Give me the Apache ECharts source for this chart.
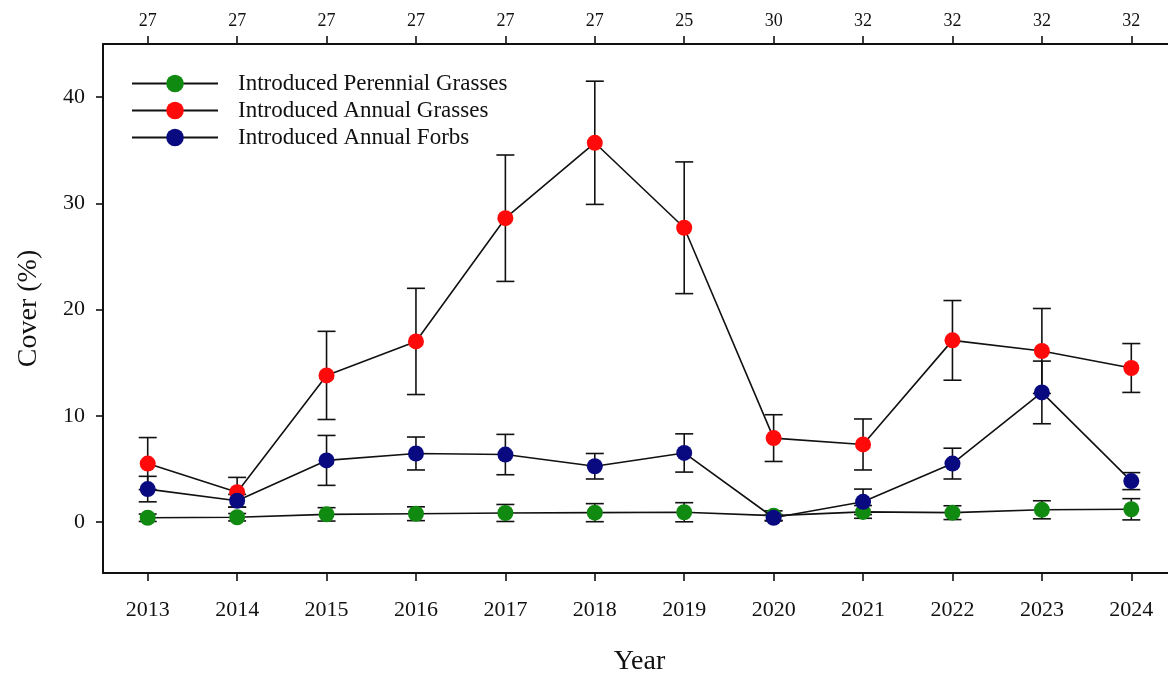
<!DOCTYPE html>
<html>
<head>
<meta charset="utf-8">
<title>Introduced plant cover by year</title>
<script src="https://cdn.jsdelivr.net/npm/echarts@6/dist/echarts.min.js"></script>
<style>
  html, body { margin: 0; padding: 0; background: #ffffff; }
  #chart { width: 1168px; height: 677px; }
</style>
</head>
<body>
<div id="chart"></div>
<script>
// Survey years and the number of plots sampled each year (top axis)
const years = ['2013', '2014', '2015', '2016', '2017', '2018', '2019', '2020', '2021', '2022', '2023', '2024'];
const plotCounts = ['27', '27', '27', '27', '27', '27', '25', '30', '32', '32', '32', '32'];

// Mean cover (%) and standard error for each functional group
const perennialGrassMean = [0.4, 0.45, 0.72, 0.78, 0.85, 0.88, 0.92, 0.6, 0.95, 0.88, 1.15, 1.2];
const perennialGrassSE   = [0.35, 0.35, 0.63, 0.65, 0.8, 0.85, 0.9, 0.45, 0.6, 0.65, 0.85, 1.0];

const annualGrassMean = [5.5, 2.8, 13.8, 17.0, 28.6, 35.7, 27.7, 7.9, 7.3, 17.1, 16.1, 14.5];
const annualGrassSE   = [2.45, 1.4, 4.15, 5.0, 5.95, 5.8, 6.2, 2.2, 2.4, 3.75, 4.0, 2.3];

const annualForbMean = [3.1, 2.0, 5.8, 6.45, 6.35, 5.25, 6.5, 0.4, 1.9, 5.5, 12.2, 3.85];
const annualForbSE   = [1.2, 0.6, 2.35, 1.55, 1.9, 1.2, 1.8, 0.3, 1.2, 1.45, 2.95, 0.8];

// Y axis ticks
const yTicks = [0, 10, 20, 30, 40];

const groups = [
  { name: 'Introduced Perennial Grasses', mean: perennialGrassMean, se: perennialGrassSE, color: '#118a11' },
  { name: 'Introduced Annual Grasses',    mean: annualGrassMean,    se: annualGrassSE,    color: '#ff0a0a' },
  { name: 'Introduced Annual Forbs',      mean: annualForbMean,     se: annualForbSE,     color: '#0a0a80' }
];

const FONT = '"Liberation Serif", "DejaVu Serif", serif';
const chart = echarts.init(document.getElementById('chart'));

// Error bars: vertical whisker with horizontal caps at mean ± SE
function errorBarSeries(g) {
  return {
    type: 'custom',
    name: g.name + ' SE',
    xAxisIndex: 0,
    yAxisIndex: 0,
    z: 1,
    silent: true,
    data: g.mean.map((m, i) => [i, m - g.se[i], m + g.se[i]]),
    renderItem: function (params, api) {
      const lo = api.coord([api.value(0), api.value(1)]);
      const hi = api.coord([api.value(0), api.value(2)]);
      const half = 9;
      const style = { stroke: '#111111', lineWidth: 1.6 };
      return {
        type: 'group',
        children: [
          { type: 'line', shape: { x1: lo[0], y1: lo[1], x2: hi[0], y2: hi[1] }, style: style },
          { type: 'line', shape: { x1: hi[0] - half, y1: hi[1], x2: hi[0] + half, y2: hi[1] }, style: style },
          { type: 'line', shape: { x1: lo[0] - half, y1: lo[1], x2: lo[0] + half, y2: lo[1] }, style: style }
        ]
      };
    }
  };
}

const lineSeries = groups.map((g, k) => ({
  type: 'line',
  name: g.name,
  data: g.mean,
  xAxisIndex: 0,
  yAxisIndex: 0,
  z: 3 + k,
  symbol: 'circle',
  symbolSize: 16,
  showAllSymbol: true,
  itemStyle: { color: g.color, borderWidth: 0 },
  lineStyle: { color: '#111111', width: 1.6 },
  emphasis: { disabled: true },
  animation: false
}));

const axisLine = { show: true, onZero: false, lineStyle: { color: '#111111', width: 2 } };

chart.setOption({
  animation: false,
  backgroundColor: '#ffffff',
  textStyle: { fontFamily: FONT },
  grid: { left: 103, top: 44, width: 1073, bottom: 104, containLabel: false, outerBoundsMode: 'none' },
  legend: {
    orient: 'vertical',
    left: 131,
    top: 72,
    padding: 0,
    itemWidth: 86,
    itemHeight: 22,
    itemGap: 4,
    data: groups.map(g => g.name),
    textStyle: { fontFamily: FONT, fontSize: 23, color: '#111111', padding: [0, 0, 0, 15] },
    selectedMode: false
  },
  xAxis: [
    {
      type: 'category',
      position: 'bottom',
      data: years,
      boundaryGap: true,
      axisLine: axisLine,
      axisTick: { show: true, alignWithLabel: true, length: 8, lineStyle: { color: '#111111', width: 1.6 } },
      axisLabel: { fontFamily: FONT, fontSize: 22, color: '#111111', margin: 26 },
      splitLine: { show: false },
      name: 'Year',
      nameLocation: 'middle',
      nameGap: 75,
      nameTextStyle: { fontFamily: FONT, fontSize: 28, color: '#111111' }
    },
    {
      type: 'category',
      position: 'top',
      data: plotCounts,
      boundaryGap: true,
      axisLine: axisLine,
      axisTick: { show: true, alignWithLabel: true, length: 8, lineStyle: { color: '#111111', width: 1.6 } },
      axisLabel: { fontFamily: FONT, fontSize: 18, color: '#111111', margin: 14 },
      splitLine: { show: false }
    }
  ],
  yAxis: {
    type: 'value',
    min: -4.8,
    max: 45,
    axisLine: axisLine,
    axisTick: { show: true, length: 7, customValues: yTicks, lineStyle: { color: '#111111', width: 1.6 } },
    axisLabel: { fontFamily: FONT, fontSize: 22, color: '#111111', margin: 18, customValues: yTicks },
    splitLine: { show: false },
    name: 'Cover (%)',
    nameLocation: 'middle',
    nameRotate: 90,
    nameGap: 60,
    nameTextStyle: { fontFamily: FONT, fontSize: 28, color: '#111111' }
  },
  series: groups.map(errorBarSeries).concat(lineSeries)
});
</script>
</body>
</html>
